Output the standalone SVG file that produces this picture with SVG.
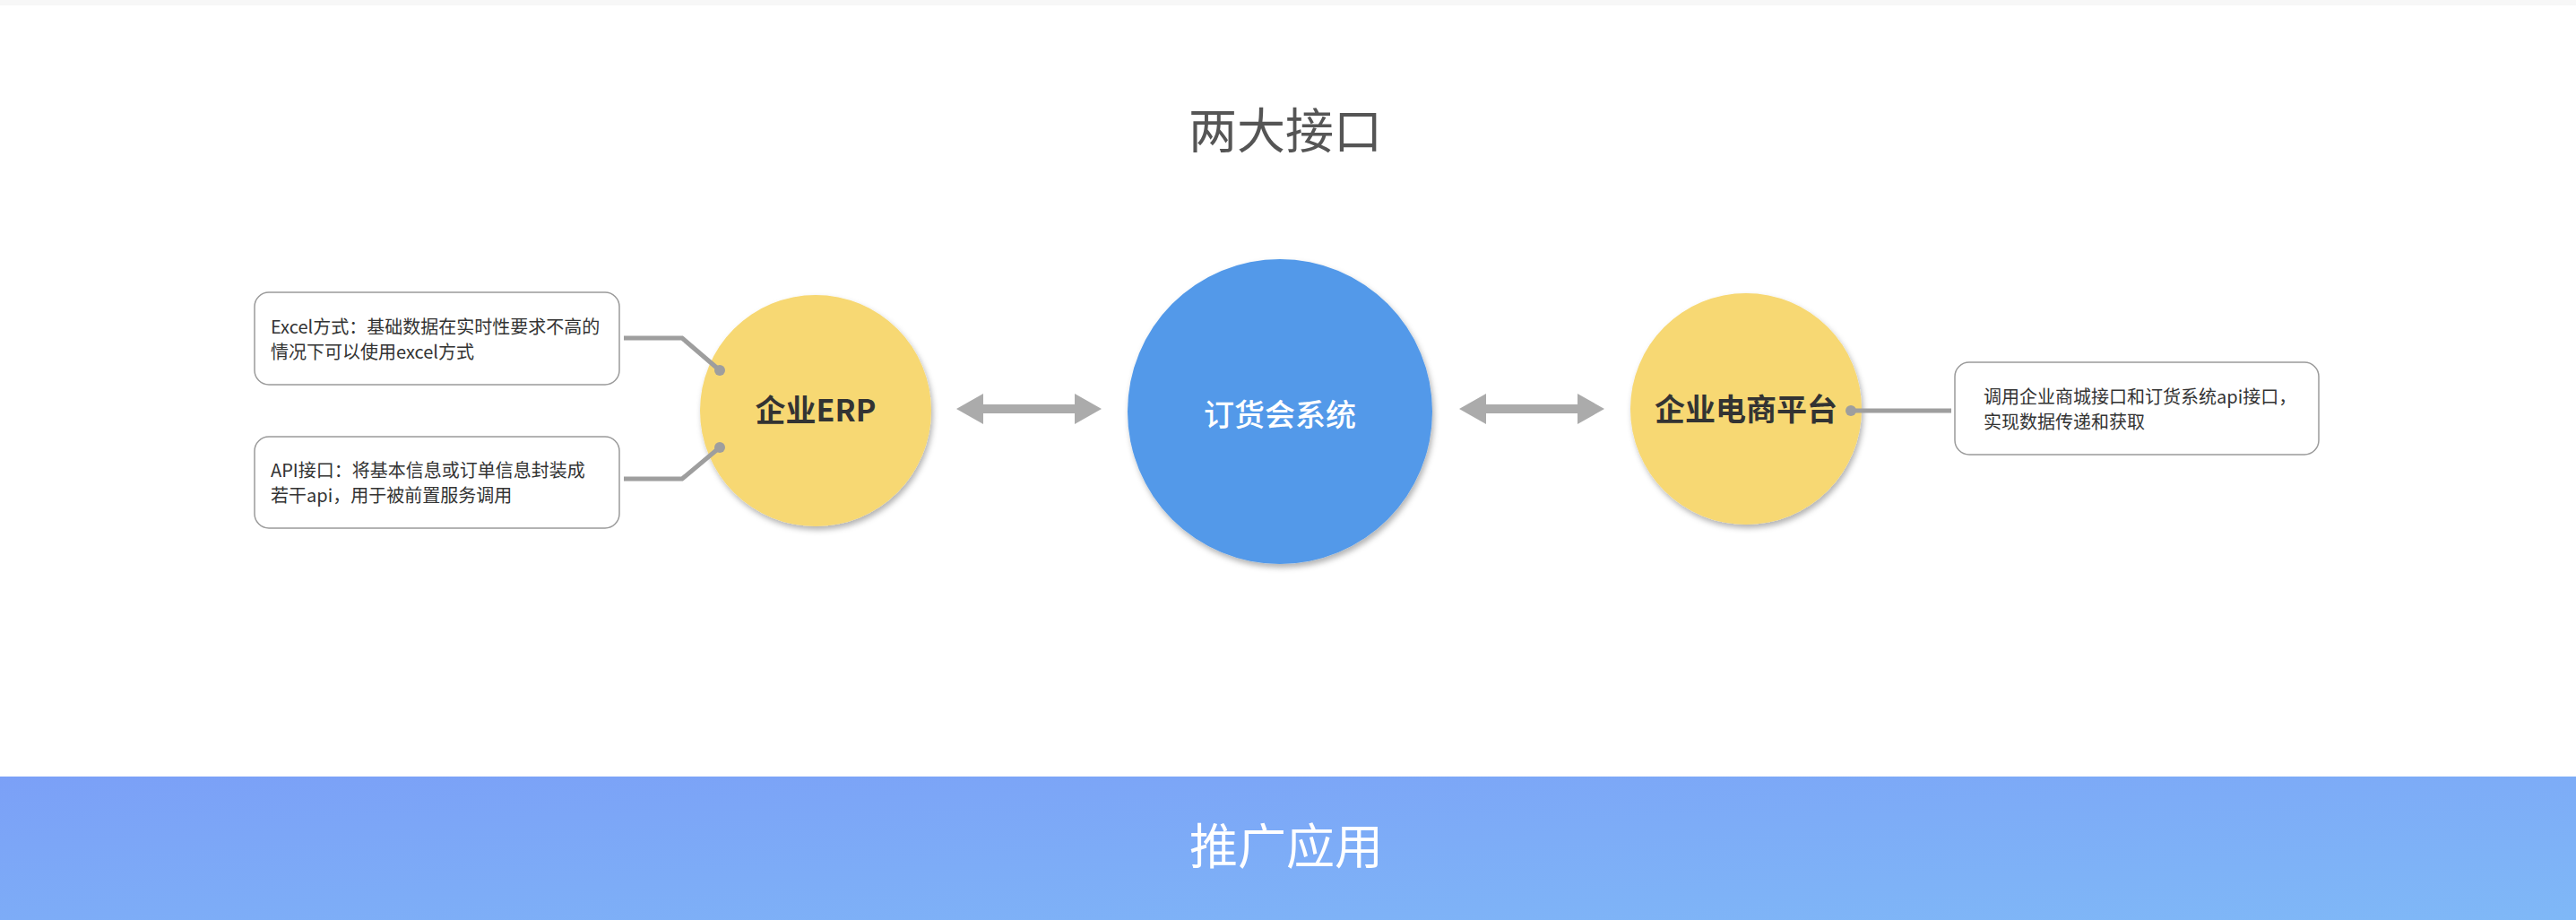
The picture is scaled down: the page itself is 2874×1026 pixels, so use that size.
<svg xmlns="http://www.w3.org/2000/svg" width="2874" height="1026" viewBox="0 0 2874 1026">
<defs>
<style>
.cjk{font-family:"Noto Sans CJK SC","Noto Sans",sans-serif;}
.note{font-size:20px;fill:#333;}
.box{fill:#fff;stroke:#9a9a9a;stroke-width:1.5;}
.lnk{fill:none;stroke:#9e9e9e;stroke-width:5;stroke-linejoin:miter;}
.dot{fill:#9e9e9e;}
.yel{fill:#F7D873;}
.big{font-size:34px;font-weight:bold;fill:#333;text-anchor:middle;}
.arr{fill:#ababab;}
</style>
<filter id="sh" x="-20%" y="-20%" width="140%" height="140%">
<feDropShadow dx="2" dy="4" stdDeviation="3" flood-color="#000" flood-opacity="0.3"/>
</filter>
<linearGradient id="band" x1="0" y1="0" x2="1" y2="1">
<stop offset="0" stop-color="#7BA0F7"/>
<stop offset="1" stop-color="#7FB8F7"/>
</linearGradient>
</defs>
<rect x="0" y="0" width="2874" height="1026" fill="#fff"/>
<rect x="0" y="0" width="2874" height="6" fill="#f7f7f7"/>
<text class="cjk" x="1434" y="166" font-size="54" fill="#555" text-anchor="middle">两大接口</text>

<g id="note-excel">
<rect class="box" x="284" y="326" width="407" height="103" rx="16"/>
<text class="cjk note" x="302" y="372">Excel方式：基础数据在实时性要求不高的</text>
<text class="cjk note" x="302" y="400">情况下可以使用excel方式</text>
</g>
<g id="note-api">
<rect class="box" x="284" y="487" width="407" height="102" rx="16"/>
<text class="cjk note" x="302" y="532">API接口：将基本信息或订单信息封装成</text>
<text class="cjk note" x="302" y="560">若干api，用于被前置服务调用</text>
</g>
<g id="node-erp">
<circle class="yel" cx="910" cy="458" r="129" filter="url(#sh)"/>
<text class="cjk big" x="910" y="470">企业ERP</text>
</g>
<g id="node-center">
<circle cx="1428" cy="459" r="170" fill="#5299E9" filter="url(#sh)"/>
<text class="cjk" x="1428" y="475" font-size="34" font-weight="500" fill="#fff" text-anchor="middle">订货会系统</text>
</g>
<g id="node-ecom">
<circle class="yel" cx="1948" cy="456" r="129" filter="url(#sh)"/>
<text class="cjk big" x="1948" y="469">企业电商平台</text>
</g>
<g id="note-ecom">
<rect class="box" x="2181" y="404" width="406" height="103" rx="16"/>
<text class="cjk note" x="2213" y="450">调用企业商城接口和订货系统api接口，</text>
<text class="cjk note" x="2213" y="478">实现数据传递和获取</text>
</g>

<g id="connectors">
<polyline class="lnk" points="696,377 761,377 803,413"/>
<circle class="dot" cx="803" cy="413" r="6"/>
<polyline class="lnk" points="696,534 761,534 803,499"/>
<circle class="dot" cx="803" cy="499" r="6"/>
<line class="lnk" x1="2065" y1="458" x2="2177" y2="458"/>
<circle class="dot" cx="2065" cy="458" r="6"/>
<path class="arr" d="M1067,456 L1097,439 L1097,451 L1199,451 L1199,439 L1229,456 L1199,473 L1199,461 L1097,461 L1097,473 Z"/>
<path class="arr" d="M1628,456 L1658,439 L1658,451 L1760,451 L1760,439 L1790,456 L1760,473 L1760,461 L1658,461 L1658,473 Z"/>
</g>

<rect x="0" y="866" width="2874" height="160" fill="url(#band)"/>
<text class="cjk" x="1435" y="964" font-size="54" fill="#fff" text-anchor="middle">推广应用</text>
</svg>
